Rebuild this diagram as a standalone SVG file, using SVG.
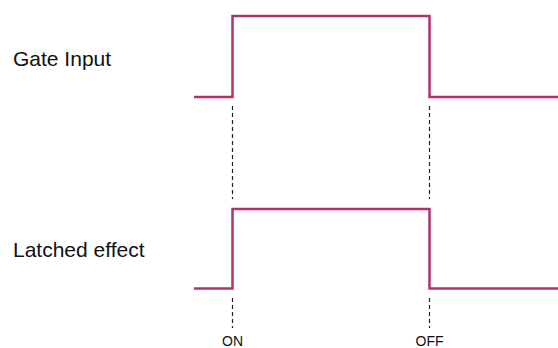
<svg xmlns="http://www.w3.org/2000/svg" width="558" height="348" viewBox="0 0 558 348">
<style>
.sig{fill:none;stroke:#B3306F;stroke-width:2.5;stroke-linejoin:miter}
.dash{fill:none;stroke:#222;stroke-width:1.2;stroke-dasharray:4 3}
.lbl{font-family:"Liberation Sans",Arial,sans-serif;font-size:21px;fill:#111}
.mark{font-family:"Liberation Sans",Arial,sans-serif;font-size:14px;fill:#111;text-anchor:middle}
</style>
<rect width="558" height="348" fill="#fff"/>
<g id="gate-input">
<path class="sig" d="M194,97 H232.5 V16 H429.5 V97 H558"/>
<text class="lbl" x="13" y="66">Gate Input</text>
</g>
<g id="latched-effect">
<path class="sig" d="M194,288.5 H232.5 V209 H429.5 V288.5 H558"/>
<text class="lbl" x="13" y="257">Latched effect</text>
</g>
<g id="connectors">
<line class="dash" x1="232.5" y1="106" x2="232.5" y2="199"/>
<line class="dash" x1="429.5" y1="106" x2="429.5" y2="199"/>
<line class="dash" x1="232.5" y1="298" x2="232.5" y2="328"/>
<line class="dash" x1="429.5" y1="298" x2="429.5" y2="328"/>
</g>
<g id="markers">
<text class="mark" x="232.5" y="346">ON</text>
<text class="mark" x="429.5" y="346">OFF</text>
</g>
</svg>
